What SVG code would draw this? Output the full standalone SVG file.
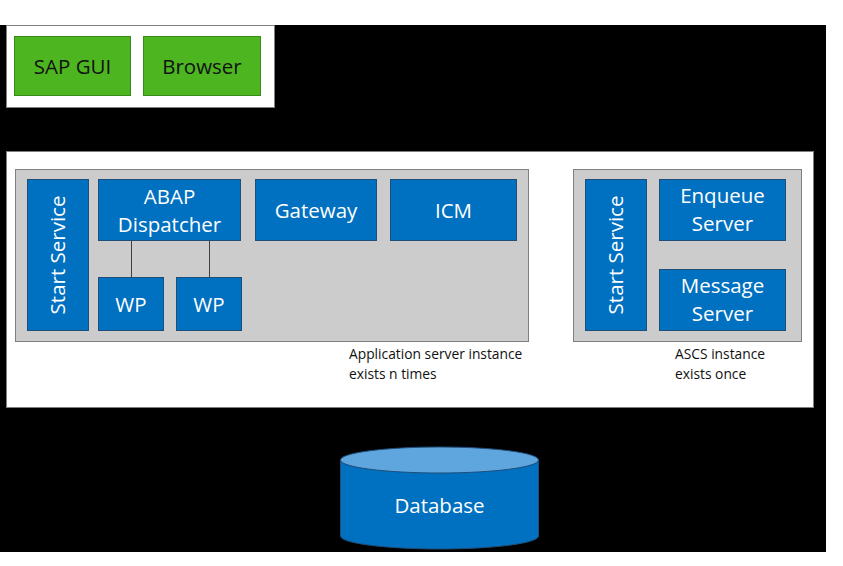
<svg xmlns="http://www.w3.org/2000/svg" width="843" height="566" viewBox="0 0 843 566">
<style>
.lbl{font-family:"Open Sans","Noto Sans","Liberation Sans",sans-serif;font-size:20.5px;text-anchor:middle;}
.w{fill:#ffffff;}
.k{fill:#111111;}
.cap{font-family:"Open Sans","Noto Sans","Liberation Sans",sans-serif;font-size:13.8px;fill:#111111;}
.blue{fill:#0070C0;stroke:#1F4E79;stroke-width:1;}
.green{fill:#4DB520;stroke:#3A8A1A;stroke-width:1;}
.gray{fill:#CCCCCC;stroke:#7F7F7F;stroke-width:1;}
.panel{fill:#ffffff;stroke:#7F7F7F;stroke-width:1;}
.conn{stroke:#404040;stroke-width:1;fill:none;}
</style>
<rect x="0" y="0" width="843" height="566" fill="#ffffff"/>
<rect x="0" y="25" width="826" height="527" fill="#000000"/>
<g id="clients">
<rect x="6.5" y="25.5" width="268" height="82" class="panel"/>
</g>
<g id="sapgui"><rect x="14.5" y="36.5" width="116" height="59" class="green"/><text x="72.5" y="73.5" class="lbl k">SAP GUI</text></g>
<g id="browser"><rect x="143.5" y="36.5" width="117" height="59" class="green"/><text x="202" y="73.5" class="lbl k">Browser</text></g>
<g id="serverpanel"><rect x="6.5" y="151.5" width="807" height="256" fill="#ffffff" stroke="#7F7F7F"/></g>
<g id="appserver">
<rect x="15.5" y="169.5" width="513" height="172" class="gray"/>
<text x="349" y="359" class="cap">Application server instance</text>
<text x="349" y="379" class="cap">exists n times</text>
</g>
<g id="startservice1"><rect x="27.5" y="179.5" width="61" height="151" class="blue"/><text transform="translate(64.5,255) rotate(-90)" x="0" y="0" class="lbl w">Start Service</text></g>
<g id="dispatcher"><rect x="98.5" y="179.5" width="142" height="61" class="blue"/><text x="169.5" y="204" class="lbl w">ABAP</text><text x="169.5" y="232" class="lbl w">Dispatcher</text></g>
<g id="wp1"><rect x="98.5" y="277.5" width="65" height="53" class="blue"/><text x="131" y="311.5" class="lbl w">WP</text></g>
<g id="wp2"><rect x="176.5" y="277.5" width="65" height="53" class="blue"/><text x="209" y="311.5" class="lbl w">WP</text></g>
<g id="gateway"><rect x="255.5" y="179.5" width="121" height="61" class="blue"/><text x="316" y="218" class="lbl w">Gateway</text></g>
<g id="icm"><rect x="390.5" y="179.5" width="126" height="61" class="blue"/><text x="453.5" y="218" class="lbl w">ICM</text></g>
<g id="ascs">
<rect x="573.5" y="169.5" width="228" height="172" class="gray"/>
<text x="675" y="359" class="cap">ASCS instance</text>
<text x="675" y="379" class="cap">exists once</text>
</g>
<g id="startservice2"><rect x="585.5" y="179.5" width="61" height="151" class="blue"/><text transform="translate(622.5,255) rotate(-90)" x="0" y="0" class="lbl w">Start Service</text></g>
<g id="enqueue"><rect x="659.5" y="179.5" width="126" height="61" class="blue"/><text x="722.5" y="203" class="lbl w">Enqueue</text><text x="722.5" y="231" class="lbl w">Server</text></g>
<g id="message"><rect x="659.5" y="269.5" width="126" height="61" class="blue"/><text x="722.5" y="293" class="lbl w">Message</text><text x="722.5" y="321" class="lbl w">Server</text></g>
<g id="database">
<path d="M340.5,460 L340.5,536 A99,13 0 0 0 538.5,536 L538.5,460" fill="#0070C0" stroke="#1F4E79"/>
<ellipse cx="439.5" cy="460" rx="99" ry="13" fill="#5FA6DE" stroke="#1F4E79"/>
<text x="439.5" y="513" class="lbl w">Database</text>
</g>
<g id="connectors">
<line x1="131.5" y1="241" x2="131.5" y2="277" class="conn"/>
<line x1="209.5" y1="241" x2="209.5" y2="277" class="conn"/>
</g>
</svg>
